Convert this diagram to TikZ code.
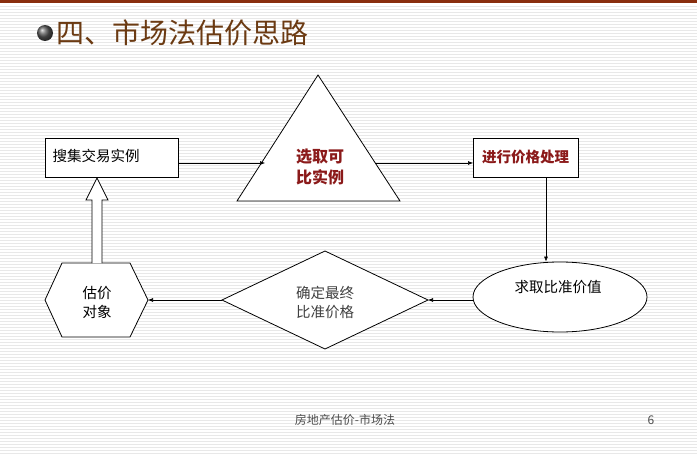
\documentclass[tikz,border=0pt]{standalone}
\usepackage{fontspec}
\newfontfamily\cjk{Noto Sans CJK SC}
\usetikzlibrary{arrows.meta,shapes.geometric}
\definecolor{brn}{HTML}{6B3A12}
\definecolor{dred}{HTML}{8B1A1A}
\begin{document}
\begin{tikzpicture}[x=1pt,y=-1pt,font=\cjk,
  box/.style={draw,line width=0.8pt,fill=white,minimum width=133pt,minimum height=39pt,anchor=north west},
  con/.style={draw,line width=0.6pt,-{Latex[length=5pt,width=4pt]}},
  lbl/.style={font=\cjk\fontsize{14.5}{19}\selectfont,align=center}]
\useasboundingbox (0,0) rectangle (697,455);
\fill[white] (0,0) rectangle (697,455);
\foreach \y in {6,9,...,455} \draw[gray!18,line width=0.8pt] (0,\y) -- (697,\y);
\fill[brn!80!red] (0,0) rectangle (697,3);
% title
\shade[ball color=gray!70!black] (45,33) circle (8);
\node[anchor=west,text=brn,font=\cjk\fontsize{28}{32}\selectfont] (title) at (53,33) {四、市场法估价思路};
% box1
\node[box,minimum width=133pt] (b1) at (45,138) {};
\node[anchor=west,lbl] (t1) at (49,156) {搜集交易实例};
% triangle
\draw[line width=0.8pt,fill=white] (318,75) -- (400,201) -- (237,201) -- cycle;
\coordinate (trL) at (265,163);
\coordinate (trR) at (375,163);
\node[lbl,text=dred,font=\cjk\bfseries\fontsize{16}{21}\selectfont] (t2) at (320,167) {选取可\\比实例};
% box3
\node[box,minimum width=105pt] (b3) at (473,138) {};
\node[lbl,text=dred,font=\cjk\bfseries\fontsize{14.5}{19}\selectfont] (t3) at (525.5,157) {进行价格处理};
% ellipse
\node[draw,ellipse,line width=0.8pt,fill=white,minimum width=174pt,minimum height=70pt] (el) at (560,297) {};
\coordinate (elW) at (474,300);
\node[lbl] (t4) at (558,287) {求取比准价值};
% diamond
\draw[line width=0.8pt,fill=white] (222,300) -- (325,251) -- (428,300) -- (325,349) -- cycle;
\coordinate (dR) at (428,300);
\coordinate (dL) at (222,300);
\node[lbl,text=black!75] (t5) at (325,302) {确定最终\\比准价格};
% hexagon
\draw[line width=0.8pt,fill=white] (45,300) -- (62,263) -- (130,263) -- (148,300) -- (130,337) -- (62,337) -- cycle;
\coordinate (hR) at (148,300);
\node[lbl] (t6) at (97,302) {估价\\对象};
% connectors
\draw[con] (b1.east|-trL) -- (trL);
\draw[con] (trR) -- (b3.west|-trR);
\draw[con] (546,177) -- (el.north-|546,0);
\draw[con] (elW) -- (dR);
\draw[con] (dL) -- (hR);
% hollow arrow
\draw[line width=0.8pt,fill=white] (92,263) -- (92,200) -- (86,200) -- (97,178) -- (108,200) -- (102,200) -- (102,263);
% footer
\node[font=\cjk\fontsize{12}{14}\selectfont,text=black!70] (f1) at (345,420) {房地产估价-市场法};
\node[font=\cjk\fontsize{12}{14}\selectfont,text=black!70] (f2) at (651,420) {6};
\end{tikzpicture}
\end{document}
